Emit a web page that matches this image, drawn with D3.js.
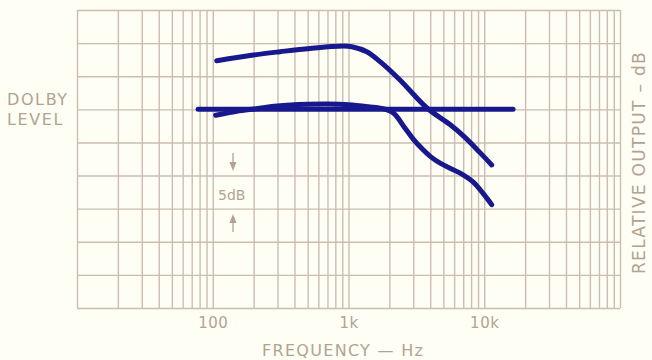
<!DOCTYPE html>
<html>
<head>
<meta charset="utf-8">
<script src="https://cdn.jsdelivr.net/npm/d3@7"></script>
<style>
  html, body { margin: 0; padding: 0; background: #fefef5; }
  svg { display: block; }
  text { font-family: "DejaVu Sans", sans-serif; fill: #b1a391; }
</style>
</head>
<body>
<svg id="chart" width="652" height="360"></svg>
<script>
// ---- data ----
const freqDomain = [10, 100000];
const dbDomain = [-30, 15];
const dbGridValues = [-30, -25, -20, -15, -10, -5, 0, 5, 10, 15];
const freqLabelValues = [100, 1000, 10000];
const freqLabels = ["100", "1k", "10k"];

// Dolby reference level line (frequency Hz, dB)
const dolbyFreqs = [78, 16300];
const dolbyDb = [0, 0];

// upper response curve
const upperFreqs = [107, 199, 313, 520, 916, 1057, 1364, 1708, 2395, 3785, 5594, 7180, 9270, 11350];
const upperDb    = [7.34, 8.2, 8.7, 9.2, 9.56, 9.46, 8.7, 7.2, 4.43, 0.2, -2.3, -4.2, -6.5, -8.4];

// lower response curve
const lowerFreqs = [105, 150, 200, 300, 500, 700, 1000, 1400, 1800, 2150, 2600, 3000, 3500, 4000, 4700, 5600, 6600, 8300, 9800, 11350];
const lowerDb    = [-0.9, -0.3, 0.05, 0.5, 0.75, 0.8, 0.7, 0.4, 0.1, -0.6, -2.8, -4.5, -6.0, -7.1, -8.1, -8.9, -9.6, -11.0, -12.7, -14.4];

// ---- drawing ----
const svg = d3.select("#chart");
const mLeft = 77, mRight = 620, mTop = 10, mBottom = 308;

const x = d3.scaleLog().domain(freqDomain).range([mLeft, mRight]);
const y = d3.scaleLinear().domain(dbDomain).range([mBottom, mTop]);

const gridColor = "#cbbdb0";

// vertical grid (log decades 1..9)
const vGrid = svg.append("g")
  .attr("transform", `translate(0,${mBottom})`)
  .call(d3.axisBottom(x).ticks(20).tickSize(-(mBottom - mTop)).tickFormat(""));
vGrid.select(".domain").remove();
vGrid.selectAll("line").attr("stroke", gridColor).attr("stroke-width", 1.4);

// horizontal grid
const hGrid = svg.append("g")
  .attr("transform", `translate(${mLeft},0)`)
  .call(d3.axisLeft(y).tickValues(dbGridValues).tickSize(-(mRight - mLeft)).tickFormat(""));
hGrid.select(".domain").remove();
hGrid.selectAll("line").attr("stroke", gridColor).attr("stroke-width", 1.4);

// frequency labels
const xLab = svg.append("g")
  .attr("transform", `translate(0,${mBottom})`)
  .call(d3.axisBottom(x).tickValues(freqLabelValues).tickSize(0)
        .tickFormat((d, i) => freqLabels[i]).tickPadding(9));
xLab.select(".domain").remove();
xLab.selectAll("text")
  .style("font-family", "DejaVu Sans, sans-serif")
  .attr("font-size", 15).attr("fill", "#b1a391")
  .attr("letter-spacing", 0.5);

// curves
const lineGen = d3.line()
  .x(d => x(d[0]))
  .y(d => y(d[1]))
  .curve(d3.curveCatmullRom.alpha(0.5));

const curveColor = "#18188e";
function drawCurve(fs, dbs) {
  const pts = fs.map((f, i) => [f, dbs[i]]);
  svg.append("path")
    .datum(pts)
    .attr("d", lineGen)
    .attr("fill", "none")
    .attr("stroke", curveColor)
    .attr("stroke-width", 5)
    .attr("stroke-linecap", "round")
    .attr("stroke-linejoin", "round");
}
drawCurve(dolbyFreqs, dolbyDb);
drawCurve(lowerFreqs, lowerDb);
drawCurve(upperFreqs, upperDb);

// left label
svg.append("text").attr("x", 7).attr("y", 105)
  .attr("font-size", 16).attr("letter-spacing", 1.6).text("DOLBY");
svg.append("text").attr("x", 7).attr("y", 125)
  .attr("font-size", 16).attr("letter-spacing", 1.6).text("LEVEL");

// 5dB marker
svg.append("text").attr("x", 218).attr("y", 200)
  .attr("font-size", 14).text("5dB");
const arrowColor = "#b1a391";
svg.append("line").attr("x1", 233).attr("x2", 233).attr("y1", 153).attr("y2", 166)
  .attr("stroke", arrowColor).attr("stroke-width", 1.3);
svg.append("path").attr("d", "M229.5,162 L233,171 L236.5,162 Z").attr("fill", arrowColor);
svg.append("path").attr("d", "M229.5,223 L233,214 L236.5,223 Z").attr("fill", arrowColor);
svg.append("line").attr("x1", 233).attr("x2", 233).attr("y1", 219).attr("y2", 232)
  .attr("stroke", arrowColor).attr("stroke-width", 1.3);

// axis titles
svg.append("text").attr("x", 262).attr("y", 356)
  .attr("font-size", 16).attr("letter-spacing", 1.3).text("FREQUENCY — Hz");
svg.append("text")
  .attr("transform", "translate(645,274) rotate(-90)")
  .attr("font-size", 17).attr("letter-spacing", 1.3).text("RELATIVE OUTPUT – dB");
</script>
</body>
</html>
